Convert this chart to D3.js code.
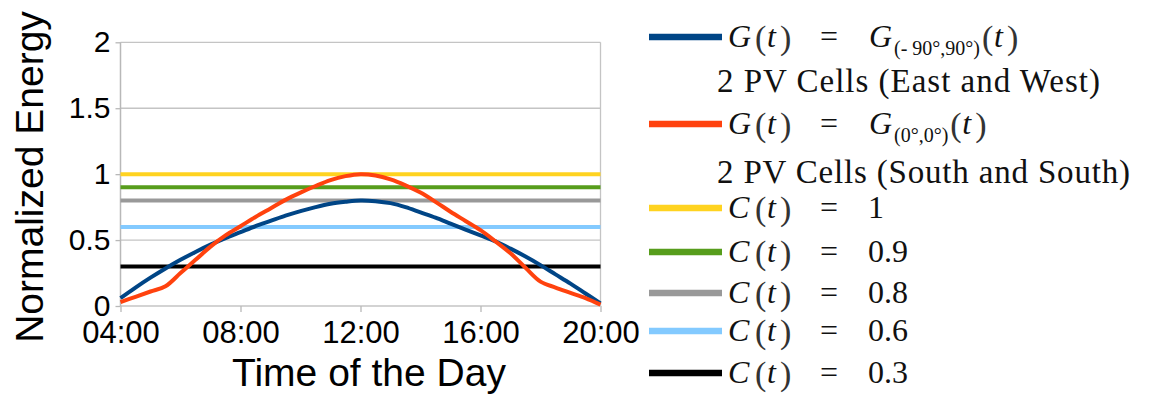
<!DOCTYPE html>
<html>
<head>
<meta charset="utf-8">
<script src="https://cdnjs.cloudflare.com/ajax/libs/d3/7.8.5/d3.min.js"></script>
<style>
  html, body { margin: 0; padding: 0; background: #fff; }
  svg { display: block; }
</style>
</head>
<body>
<svg id="chart" width="1157" height="394"></svg>
<script>
// Time of day in hours (half-hour samples)
const hours = [4, 4.5, 5, 5.5, 6, 6.5, 7, 7.5, 8, 8.5, 9, 9.5, 10, 10.5, 11, 11.5, 12,
               12.5, 13, 13.5, 14, 14.5, 15, 15.5, 16, 16.5, 17, 17.5, 18, 18.5, 19, 19.5, 20];

// Normalized energy, 2 PV cells facing East and West
const eastWest = [0.06, 0.14, 0.215, 0.285, 0.35, 0.41, 0.465, 0.515, 0.56, 0.605, 0.645, 0.685, 0.72, 0.75, 0.775, 0.79, 0.80,
                  0.795, 0.78, 0.75, 0.71, 0.67, 0.625, 0.58, 0.535, 0.49, 0.435, 0.375, 0.31, 0.24, 0.17, 0.095, 0.02];

// Normalized energy, 2 PV cells both facing South
const southSouth = [0.03, 0.07, 0.11, 0.15, 0.25, 0.35, 0.45, 0.535, 0.605, 0.675, 0.74, 0.805, 0.86, 0.91, 0.955, 0.985, 1.00,
                    0.99, 0.96, 0.915, 0.86, 0.79, 0.715, 0.645, 0.575, 0.49, 0.40, 0.29, 0.185, 0.14, 0.10, 0.06, 0.01];

// Constant consumption levels C(t)
const constValues = [1, 0.9, 0.8, 0.6, 0.3];
const constLabels = ["1", "0.9", "0.8", "0.6", "0.3"];

// Curve legend pieces
const curveSubscripts = ["(- 90\u00b0,90\u00b0)", "(0\u00b0,0\u00b0)"];
const curveNotes = ["2 PV Cells (East and West)", "2 PV Cells (South and South)"];

// Axis ticks
const xTicks = [4, 8, 12, 16, 20];
const yTicks = [0, 0.5, 1, 1.5, 2];

const curveColors = ["#004586", "#ff420e"];
const constColors = ["#ffd320", "#579d1c", "#999999", "#83caff", "#000000"];

const svg = d3.select("#chart");
const plot = { left: 120.5, right: 600.5, top: 42.3, bottom: 306 };

const x = d3.scaleLinear().domain([4, 20]).range([plot.left, plot.right]);
const y = d3.scaleLinear().domain([0, 2]).range([plot.bottom, plot.top]);

const sans = "'Liberation Sans', Arial, sans-serif";
const serif = "'Liberation Serif', 'Times New Roman', serif";

// Horizontal grid
svg.append("g")
  .selectAll("line")
  .data(yTicks)
  .join("line")
  .attr("x1", plot.left).attr("x2", plot.right)
  .attr("y1", d => y(d)).attr("y2", d => y(d))
  .attr("stroke", "#c4c4c4").attr("stroke-width", 1.3);

// Plot frame sides
svg.append("line")
  .attr("x1", plot.left).attr("x2", plot.left)
  .attr("y1", plot.top).attr("y2", plot.bottom)
  .attr("stroke", "#b8b8b8").attr("stroke-width", 1.5);
svg.append("line")
  .attr("x1", plot.right).attr("x2", plot.right)
  .attr("y1", plot.top).attr("y2", plot.bottom)
  .attr("stroke", "#c4c4c4").attr("stroke-width", 1.3);

// Y axis
const yAxis = svg.append("g")
  .attr("transform", `translate(${plot.left},0)`)
  .call(d3.axisLeft(y).tickValues(yTicks).tickFormat(d3.format("")).tickSize(5).tickPadding(5));
yAxis.select(".domain").remove();
yAxis.selectAll(".tick line").attr("stroke", "#b8b8b8").attr("stroke-width", 1.3);
yAxis.selectAll(".tick text")
  .attr("font-family", sans).attr("font-size", 30).attr("fill", "#000");

// X axis
const xAxis = svg.append("g")
  .attr("transform", `translate(0,${plot.bottom})`)
  .call(d3.axisBottom(x).tickValues(xTicks)
    .tickFormat(h => String(h).padStart(2, "0") + ":00")
    .tickSize(6).tickPadding(9));
xAxis.select(".domain").remove();
xAxis.selectAll(".tick line").attr("stroke", "#b8b8b8").attr("stroke-width", 1.3);
xAxis.selectAll(".tick text")
  .attr("font-family", sans).attr("font-size", 31).attr("fill", "#000");

// Axis titles
svg.append("text")
  .attr("transform", `translate(43,177) rotate(-90)`)
  .attr("text-anchor", "middle")
  .attr("font-family", sans).attr("font-size", 39)
  .text("Normalized Energy");
svg.append("text")
  .attr("x", 369).attr("y", 386)
  .attr("text-anchor", "middle")
  .attr("font-family", sans).attr("font-size", 39)
  .text("Time of the Day");

// Constant levels
svg.append("g")
  .selectAll("line")
  .data(constValues)
  .join("line")
  .attr("x1", x(4)).attr("x2", x(20))
  .attr("y1", d => y(d)).attr("y2", d => y(d))
  .attr("stroke", (d, i) => constColors[i])
  .attr("stroke-width", 4);

// Generation curves
const line = d3.line()
  .x((d, i) => x(hours[i]))
  .y(d => y(d))
  .curve(d3.curveCatmullRom.alpha(0.5));

[eastWest, southSouth].forEach((series, i) => {
  svg.append("path")
    .datum(series)
    .attr("d", line)
    .attr("fill", "none")
    .attr("stroke", curveColors[i])
    .attr("stroke-width", 4)
    .attr("stroke-linejoin", "round");
});

// Legend
const legend = svg.append("g");
const lx0 = 649, lx1 = 722;

function glyph(xp, yp, txt, size, italic) {
  return legend.append("text")
    .attr("x", xp).attr("y", yp)
    .attr("font-family", serif)
    .attr("font-size", size)
    .attr("font-style", italic ? "italic" : "normal")
    .attr("fill", "#111")
    .text(txt);
}

// "(t)" with tall, thin parentheses
function parenT(xp, yp) {
  glyph(xp, yp + 2, "(", 34, false).attr("fill", "#333");
  glyph(xp + 12, yp, "t", 32, true);
  glyph(xp + 25, yp + 2, ")", 34, false).attr("fill", "#333");
}

function funcOf(xp, yp, sym) {
  glyph(xp, yp, sym, 32, true);
  parenT(xp + 27, yp);
}

function swatch(yl, color) {
  legend.append("line")
    .attr("x1", lx0).attr("x2", lx1)
    .attr("y1", yl).attr("y2", yl)
    .attr("stroke", color).attr("stroke-width", 6.5);
}

const curveLineY = [37, 124];
const curveNoteY = [92, 183];
const noteWidths = [383, 413];
curveSubscripts.forEach((sub, i) => {
  const yl = curveLineY[i];
  const yb = yl + 10;
  swatch(yl, curveColors[i]);
  funcOf(728, yb, "G");
  glyph(820, yb, "=", 32, false);
  glyph(869, yb, "G", 32, true);
  const s = glyph(894, yb + 8, sub, 20, false);
  const w = s.node().getComputedTextLength();
  parenT(894 + w + 2, yb);
  glyph(717, curveNoteY[i], curveNotes[i], 33, false)
    .attr("textLength", noteWidths[i]).attr("lengthAdjust", "spacing");
});

const constLineY = [208, 252, 293, 331, 373];
constValues.forEach((v, i) => {
  const yl = constLineY[i];
  const yb = yl + 10;
  swatch(yl, constColors[i]);
  funcOf(728, yb, "C");
  glyph(820, yb, "=", 32, false);
  glyph(868, yb, constLabels[i], 32, false);
});
</script>
</body>
</html>
